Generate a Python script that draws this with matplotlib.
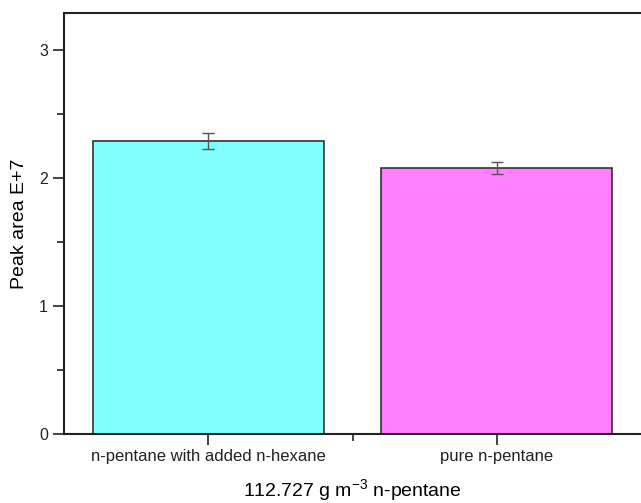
import matplotlib
matplotlib.use("Agg")
import matplotlib.pyplot as plt
from matplotlib.ticker import MultipleLocator, FixedLocator

categories = ["n-pentane with added n-hexane", "pure n-pentane"]
values = [2.29, 2.08]
errors = [0.06, 0.045]
colors = ["#80FFFF", "#FF80FF"]

plt.rcParams['font.family'] = ['Liberation Sans', 'DejaVu Sans']
plt.rcParams['mathtext.fontset'] = 'custom'
plt.rcParams['mathtext.rm'] = 'Liberation Sans'
plt.rcParams['mathtext.it'] = 'Liberation Sans'
plt.rcParams['mathtext.default'] = 'regular'

fig = plt.figure(figsize=(6.41, 5.03), dpi=100)
ax = fig.add_axes([64/641, 69/503, 1 - 64/641, (434-13)/503])

x = list(range(len(categories)))
ax.bar(x, values, width=0.8, color=colors, edgecolor="#333333", linewidth=1.2, zorder=2)
ax.errorbar(x, values, yerr=errors, fmt='none', ecolor="#555555", elinewidth=1.0,
            capsize=4, capthick=1.0, zorder=3)

ax.set_xlim(-0.5, 1.5)
ax.set_ylim(0, 3.29)
ax.set_xticks(x)
ax.set_xticklabels(categories, fontsize=12)
ax.xaxis.set_minor_locator(FixedLocator([0.5]))
ax.yaxis.set_major_locator(MultipleLocator(1))
ax.yaxis.set_minor_locator(MultipleLocator(0.5))
ax.tick_params(axis='both', which='major', direction='out', length=8, width=1.2, labelsize=11.5, colors='#222222')
ax.tick_params(axis='x', which='major', labelsize=12, pad=3)
ax.tick_params(axis='both', which='minor', direction='out', length=5, width=1.2, colors='#222222')

for s in ['left', 'top', 'bottom']:
    ax.spines[s].set_linewidth(1.5)
    ax.spines[s].set_color('#222222')
ax.spines['right'].set_visible(False)

ax.set_ylabel("Peak area E+7", fontsize=14, labelpad=8)
ax.set_xlabel("112.727 g m$^{-3}$ n-pentane", fontsize=14, labelpad=9)

fig.savefig("out.png", dpi=100)
